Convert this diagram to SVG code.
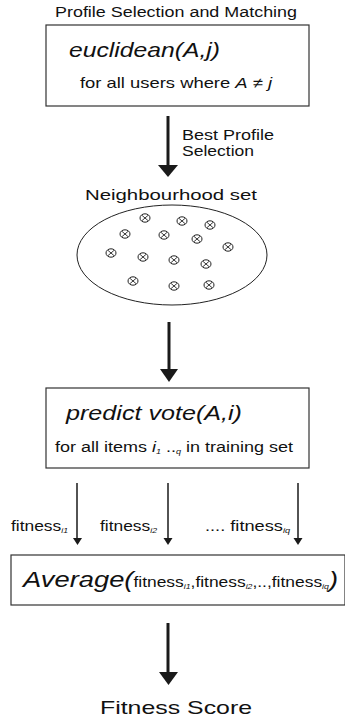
<svg xmlns="http://www.w3.org/2000/svg" xmlns:xlink="http://www.w3.org/1999/xlink" width="345" height="719" viewBox="0 0 345 719">
<style>
text{font-family:"Liberation Sans",Arial,sans-serif;fill:#111}
.it{font-style:italic}
.box{fill:#fff;stroke:#333;stroke-width:1.2}
.shaft{stroke:#1a1a1a;stroke-width:3;fill:none}
.thin{stroke:#1a1a1a;stroke-width:1.5;fill:none}
.head{fill:#1a1a1a}
</style>
<defs>
<g id="ox">
<ellipse cx="0" cy="0" rx="5" ry="4.2" fill="none" stroke="#222" stroke-width="1"/>
<path d="M-3,-2.6 L3,2.6 M-3,2.6 L3,-2.6" stroke="#222" stroke-width="0.9"/>
</g>
</defs>
<rect width="345" height="719" fill="#fff"/>
<g id="title">
<text x="55" y="17" font-size="14" textLength="242" lengthAdjust="spacingAndGlyphs">Profile Selection and Matching</text>
</g>
<g id="euclidean">
<rect class="box" x="46" y="25" width="263" height="81"/>
<text class="it" x="69" y="57" font-size="21" textLength="151" lengthAdjust="spacingAndGlyphs">euclidean(A,j)</text>
<text x="80" y="88" font-size="15" textLength="192" lengthAdjust="spacingAndGlyphs">for all users where <tspan class="it">A</tspan> ≠ <tspan class="it">j</tspan></text>
</g>
<g id="neighbourhood">
<text x="85" y="200" font-size="14" textLength="172" lengthAdjust="spacingAndGlyphs">Neighbourhood set</text>
<ellipse cx="172" cy="255" rx="95" ry="50" fill="none" stroke="#222" stroke-width="1"/>
<use xlink:href="#ox" x="145" y="218"/>
<use xlink:href="#ox" x="182" y="221"/>
<use xlink:href="#ox" x="210" y="225"/>
<use xlink:href="#ox" x="125" y="234"/>
<use xlink:href="#ox" x="164" y="235"/>
<use xlink:href="#ox" x="197" y="239"/>
<use xlink:href="#ox" x="228" y="247"/>
<use xlink:href="#ox" x="111" y="253"/>
<use xlink:href="#ox" x="143" y="257"/>
<use xlink:href="#ox" x="174" y="260"/>
<use xlink:href="#ox" x="206" y="264"/>
<use xlink:href="#ox" x="133" y="281"/>
<use xlink:href="#ox" x="174" y="286"/>
<use xlink:href="#ox" x="209" y="285"/>
</g>
<g id="predict">
<rect class="box" x="46" y="388" width="263" height="80"/>
<text class="it" x="66" y="420" font-size="21" textLength="176" lengthAdjust="spacingAndGlyphs">predict vote(A,i)</text>
<text x="55" y="452" font-size="14" textLength="238" lengthAdjust="spacingAndGlyphs">for all items <tspan class="it">i</tspan><tspan class="it" font-size="7" dy="2">1</tspan><tspan dy="-2"> ..</tspan><tspan class="it" font-size="7" dy="2">q</tspan><tspan dy="-2"> in training set</tspan></text>
</g>
<g id="average">
<rect class="box" x="11" y="555" width="334" height="50"/>
<text x="23" y="587" font-size="14" textLength="315" lengthAdjust="spacingAndGlyphs"><tspan class="it" font-size="22">Average(</tspan>fitness<tspan class="it" font-size="7" dy="2">i1</tspan><tspan dy="-2">,fitness</tspan><tspan class="it" font-size="7" dy="2">i2</tspan><tspan dy="-2">,..,fitness</tspan><tspan class="it" font-size="7" dy="2">iq</tspan><tspan class="it" font-size="22" dy="-2">)</tspan></text>
</g>
<g id="score">
<text x="100" y="714" font-size="19" textLength="152" lengthAdjust="spacingAndGlyphs">Fitness Score</text>
</g>
<g id="connectors">
<line class="shaft" x1="168" y1="116" x2="168" y2="166"/>
<polygon class="head" points="158,165 178,165 168,177"/>
<text x="182" y="140" font-size="14" textLength="92" lengthAdjust="spacingAndGlyphs">Best Profile</text>
<text x="182" y="156" font-size="14" textLength="72" lengthAdjust="spacingAndGlyphs">Selection</text>
<line class="shaft" x1="169" y1="322" x2="169" y2="370"/>
<polygon class="head" points="160,369 178,369 169,382"/>
<line class="thin" x1="77" y1="483" x2="77" y2="539"/>
<polygon class="head" points="73,538 82,538 77.5,545"/>
<line class="thin" x1="168" y1="483" x2="168" y2="539"/>
<polygon class="head" points="163.5,538 172.5,538 168,545"/>
<line class="thin" x1="298" y1="483" x2="298" y2="539"/>
<polygon class="head" points="293.5,538 302.5,538 298,545"/>
<text x="11" y="531" font-size="14" textLength="57" lengthAdjust="spacingAndGlyphs">fitness<tspan class="it" font-size="7" dy="2">i1</tspan></text>
<text x="100" y="531" font-size="14" textLength="57" lengthAdjust="spacingAndGlyphs">fitness<tspan class="it" font-size="7" dy="2">i2</tspan></text>
<text x="205" y="531" font-size="14" textLength="85" lengthAdjust="spacingAndGlyphs">.... fitness<tspan class="it" font-size="7" dy="2">iq</tspan></text>
<line class="shaft" x1="168" y1="623" x2="168" y2="673"/>
<polygon class="head" points="159,672 178,672 168.5,685"/>
</g>
</svg>
